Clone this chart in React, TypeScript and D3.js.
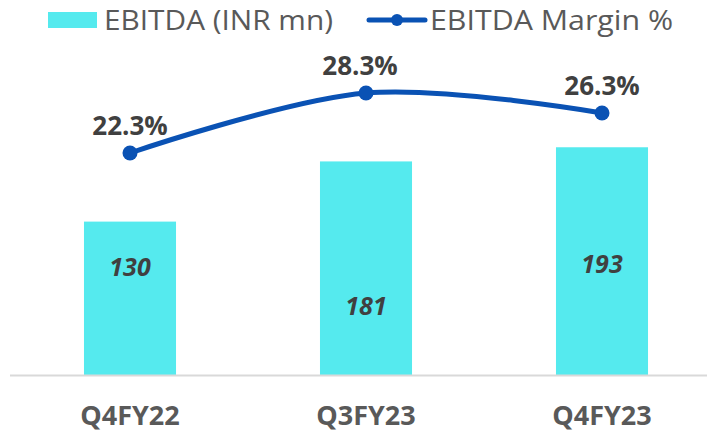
import React from "react";
import * as d3 from "d3";

const categories = ["Q4FY22", "Q3FY23", "Q4FY23"];
const ebitda = [130, 181, 193];
const margin = [22.3, 28.3, 26.3];
// vertical position of the in-bar value labels, as a fraction of each bar's height
const barLabelAt = [0.71, 0.33, 0.49];

const W = 707;
const H = 433;
const FONT = "'Open Sans', 'Noto Sans', sans-serif";

export default function App() {
  const x = d3
    .scaleBand<string>()
    .domain(categories)
    .range([12, 720])
    .paddingInner(0.61)
    .paddingOuter(0.305);
  const yL = d3.scaleLinear().domain([0, 300]).range([375, 21]);
  const yR = d3.scaleLinear().domain([0, 35]).range([376, 26]);

  const pts: [number, number][] = categories.map((c, i) => [
    (x(c) as number) + x.bandwidth() / 2,
    yR(margin[i]),
  ]);
  const line = d3.line().curve(d3.curveCardinal.tension(0))(pts) || "";

  return (
    <svg
      width={W}
      height={H}
      style={{ position: "absolute", left: 0, top: 0, background: "#fff" }}
    >
      {/* legend */}
      <rect x={48} y={12} width={49} height={16} fill="#55EAEE" />
      <text x={104} y={30} fontFamily={FONT} fontSize={28} fill="#595959" textLength={229} lengthAdjust="spacingAndGlyphs">
        EBITDA (INR mn)
      </text>
      <line x1={369} x2={425} y1={20} y2={20} stroke="#0A52B4" strokeWidth={5} strokeLinecap="round" />
      <circle cx={397} cy={20} r={6} fill="#0A52B4" />
      <text x={430} y={30} fontFamily={FONT} fontSize={28} fill="#595959" textLength={243} lengthAdjust="spacingAndGlyphs">
        EBITDA Margin %
      </text>

      {/* bars */}
      {categories.map((c, i) => (
        <rect
          key={c}
          x={x(c)}
          y={yL(ebitda[i])}
          width={x.bandwidth()}
          height={yL(0) - yL(ebitda[i])}
          fill="#55EAEE"
        />
      ))}

      {/* axis */}
      <line x1={10} x2={W} y1={375.5} y2={375.5} stroke="#D9D9D9" strokeWidth={2} />

      {/* bar labels */}
      {categories.map((c, i) => (
        <text
          key={c}
          x={(x(c) as number) + x.bandwidth() / 2}
          y={yL(ebitda[i] * barLabelAt[i])}
          textAnchor="middle"
          dominantBaseline="central"
          fontFamily={FONT}
          fontWeight="bold"
          fontStyle="italic"
          fontSize={25}
          fill="#404040"
        >
          {ebitda[i]}
        </text>
      ))}

      {/* line */}
      <path d={line} fill="none" stroke="#0A52B4" strokeWidth={5} />
      {pts.map((p, i) => (
        <circle key={i} cx={p[0]} cy={p[1]} r={7.5} fill="#0A52B4" />
      ))}
      {pts.map((p, i) => (
        <text
          key={i}
          x={p[0] - (i === 1 ? 6 : 0)}
          y={p[1] - 28}
          textAnchor="middle"
          dominantBaseline="central"
          fontFamily={FONT}
          fontWeight="bold"
          fontSize={26}
          fill="#404040"
        >
          {margin[i].toFixed(1)}%
        </text>
      ))}

      {/* category labels */}
      {categories.map((c) => (
        <text
          key={c}
          x={(x(c) as number) + x.bandwidth() / 2}
          y={425}
          textAnchor="middle"
          fontFamily={FONT}
          fontWeight="bold"
          fontSize={27}
          fill="#595959"
        >
          {c}
        </text>
      ))}
    </svg>
  );
}
